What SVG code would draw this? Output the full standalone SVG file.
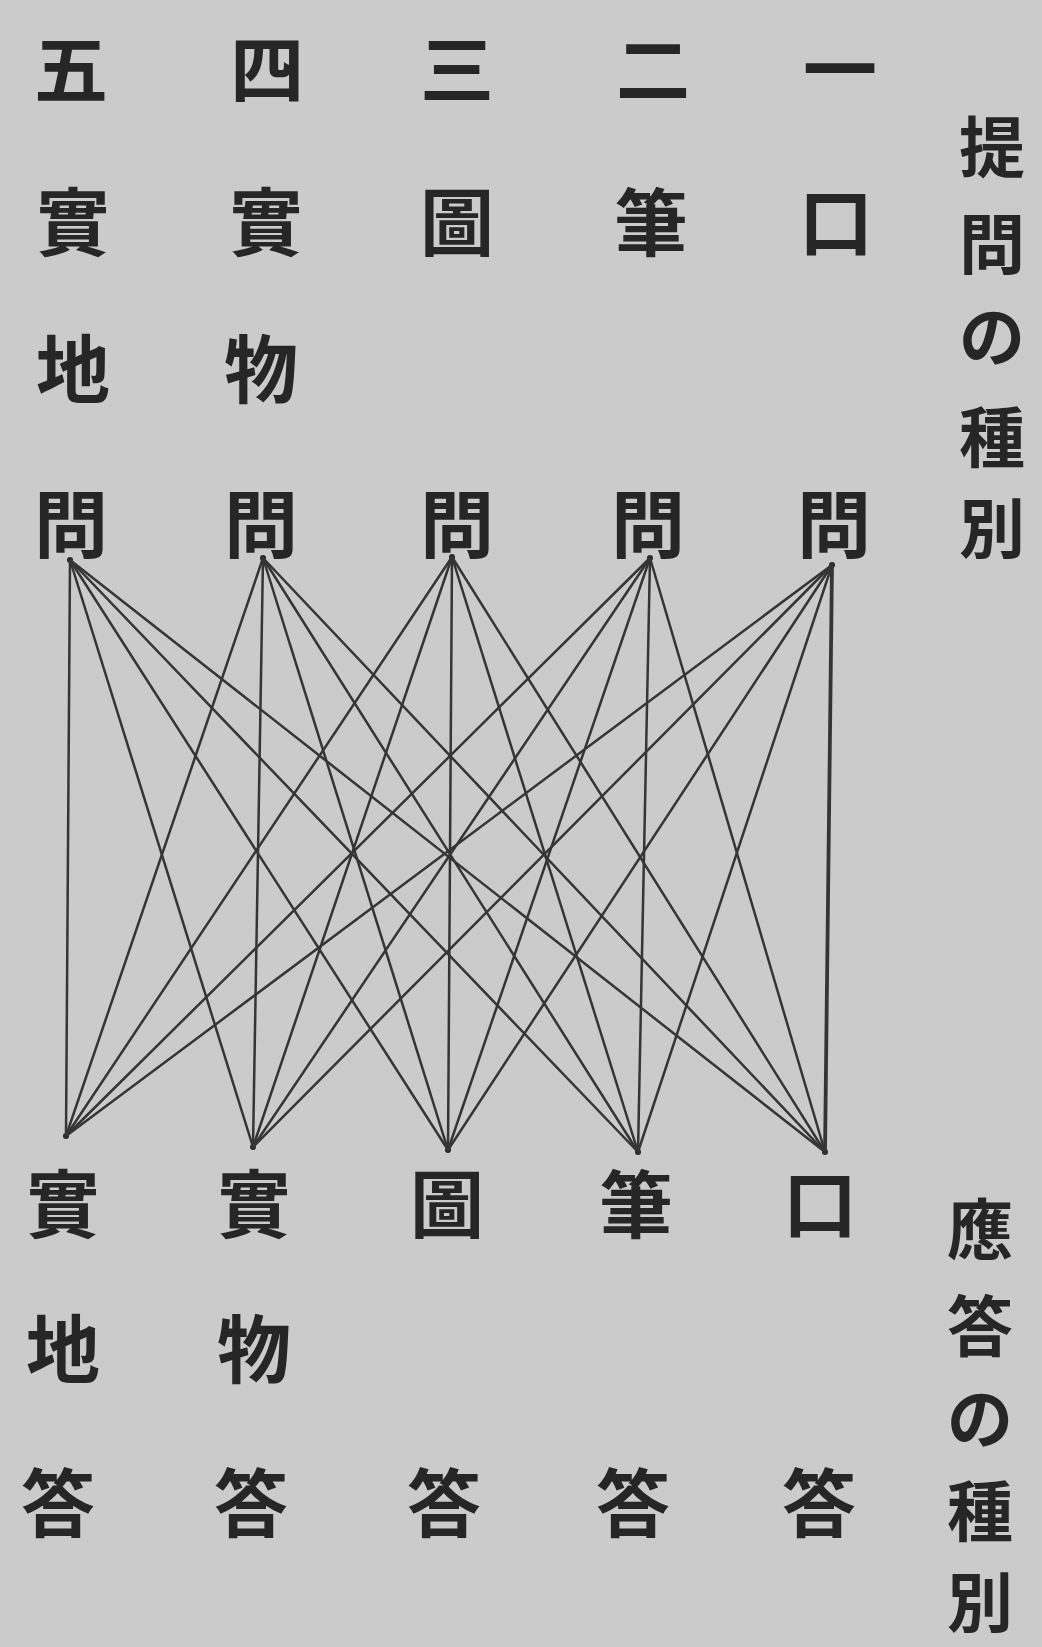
<svg xmlns="http://www.w3.org/2000/svg" width="1042" height="1647" viewBox="0 0 1042 1647">
<style>
text{font-family:"Noto Sans CJK JP","Noto Sans CJK TC",sans-serif;font-size:74px;font-weight:700;fill:#262626;text-anchor:middle;dominant-baseline:central}
.side text{font-size:66px}
.c line{stroke:#353535;stroke-width:2.5;stroke-linecap:round}
.dot{fill:#262626}
</style>
<rect width="1042" height="1647" fill="#cbcbcb"/>
<g id="label-question" class="side">
<text x="992" y="143">提</text><text x="992" y="240">問</text><text x="992" y="332">の</text><text x="992" y="433">種</text><text x="992" y="524">別</text>
</g>
<g id="label-answer" class="side">
<text x="980" y="1225">應</text><text x="980" y="1322">答</text><text x="980" y="1414">の</text><text x="980" y="1507">種</text><text x="980" y="1598">別</text>
</g>
<g id="q5"><text x="71" y="64">五</text><text x="73" y="217">實</text><text x="73" y="364">地</text><text x="71" y="519">問</text><circle class="dot" cx="70" cy="560" r="3"/></g>
<g id="q4"><text x="267" y="64">四</text><text x="266" y="217">實</text><text x="261" y="364">物</text><text x="261" y="519">問</text><circle class="dot" cx="263" cy="558" r="3"/></g>
<g id="q3"><text x="457" y="64">三</text><text x="457" y="217">圖</text><text x="457" y="519">問</text><circle class="dot" cx="452" cy="557" r="3"/></g>
<g id="q2"><text x="653" y="64">二</text><text x="651" y="217">筆</text><text x="648" y="519">問</text><circle class="dot" cx="650" cy="558" r="3"/></g>
<g id="q1"><text x="840" y="64">一</text><text x="836" y="217">口</text><text x="834" y="519">問</text><circle class="dot" cx="832" cy="565" r="3"/></g>
<g id="a5"><text x="63" y="1199">實</text><text x="63" y="1344">地</text><text x="58" y="1498">答</text><circle class="dot" cx="66" cy="1136" r="3"/></g>
<g id="a4"><text x="254" y="1199">實</text><text x="254" y="1344">物</text><text x="251" y="1498">答</text><circle class="dot" cx="253" cy="1147" r="3"/></g>
<g id="a3"><text x="447" y="1199">圖</text><text x="444" y="1498">答</text><circle class="dot" cx="448" cy="1150" r="3"/></g>
<g id="a2"><text x="636" y="1199">筆</text><text x="633" y="1498">答</text><circle class="dot" cx="638" cy="1152" r="3"/></g>
<g id="a1"><text x="820" y="1199">口</text><text x="819" y="1498">答</text><circle class="dot" cx="825" cy="1152" r="3"/></g>
<g id="connectors" class="c">
<line x1="70" y1="560" x2="66" y2="1136"/><line x1="70" y1="560" x2="253" y2="1147"/><line x1="70" y1="560" x2="448" y2="1150"/><line x1="70" y1="560" x2="638" y2="1152"/><line x1="70" y1="560" x2="825" y2="1152"/>
<line x1="263" y1="558" x2="66" y2="1136"/><line x1="263" y1="558" x2="253" y2="1147"/><line x1="263" y1="558" x2="448" y2="1150"/><line x1="263" y1="558" x2="638" y2="1152"/><line x1="263" y1="558" x2="825" y2="1152"/>
<line x1="452" y1="557" x2="66" y2="1136"/><line x1="452" y1="557" x2="253" y2="1147"/><line x1="452" y1="557" x2="448" y2="1150"/><line x1="452" y1="557" x2="638" y2="1152"/><line x1="452" y1="557" x2="825" y2="1152"/>
<line x1="650" y1="558" x2="66" y2="1136"/><line x1="650" y1="558" x2="253" y2="1147"/><line x1="650" y1="558" x2="448" y2="1150"/><line x1="650" y1="558" x2="638" y2="1152"/><line x1="650" y1="558" x2="825" y2="1152"/>
<line x1="832" y1="565" x2="66" y2="1136"/><line x1="832" y1="565" x2="253" y2="1147"/><line x1="832" y1="565" x2="448" y2="1150"/><line x1="832" y1="565" x2="638" y2="1152"/><line x1="832" y1="565" x2="825" y2="1152" style="stroke-width:3.8"/>
</g>
</svg>
